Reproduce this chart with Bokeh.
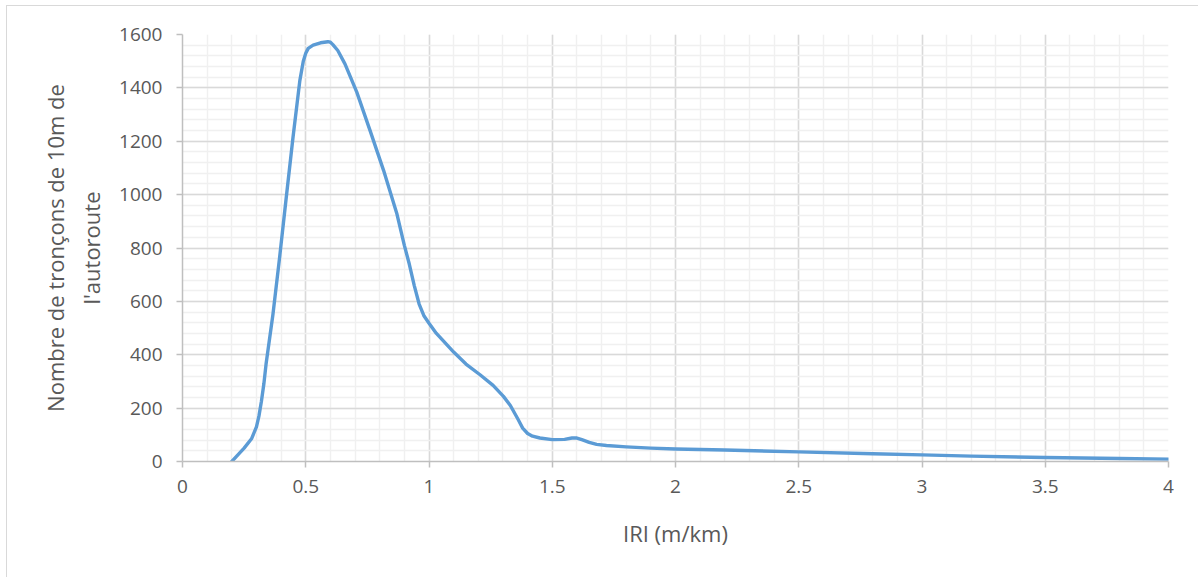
from bokeh.plotting import figure
from bokeh.models import Range1d, SingleIntervalTicker
from bokeh.embed import file_html
from bokeh.resources import INLINE

iri = [0.2, 0.22, 0.25, 0.28, 0.3, 0.31, 0.32, 0.33, 0.339, 0.367, 0.394, 0.421, 0.448, 0.476,
       0.49, 0.5, 0.51, 0.53, 0.56, 0.59, 0.6, 0.61, 0.63, 0.659, 0.707, 0.761, 0.816, 0.87,
       0.9, 0.92, 0.94, 0.96, 0.98, 1.0, 1.03, 1.06, 1.1, 1.15, 1.207, 1.26, 1.302, 1.33,
       1.36, 1.38, 1.4, 1.42, 1.45, 1.5, 1.55, 1.58, 1.6, 1.62, 1.65, 1.68, 1.72, 1.8,
       1.9, 2.0, 2.2, 2.5, 2.8, 3.0, 3.2, 3.5, 3.8, 4.0]
count = [0, 20, 50, 85, 130, 170, 225, 290, 365, 552, 765, 990, 1212, 1427,
         1500, 1530, 1548, 1560, 1569, 1573, 1571, 1562, 1540, 1490, 1384, 1240, 1090, 927,
         810, 740, 660, 590, 545, 518, 480, 450, 410, 365, 325, 285, 244, 210,
         160, 125, 105, 95, 88, 82, 83, 88, 88, 82, 72, 64, 60, 55,
         50, 47, 43, 36, 29, 25, 20, 15, 11, 9]

x_title = "IRI (m/km)"
y_title = "Nombre de tronçons de 10m de\nl'autoroute"

FONT = "Open Sans"
TXT = "#595959"

p = figure(width=1192, height=572, output_backend="svg", toolbar_location=None,
           x_range=Range1d(0, 4), y_range=Range1d(0, 1600),
           min_border_left=175, min_border_right=31, min_border_top=28, min_border_bottom=117,
           styles={"margin-left": "6px", "margin-top": "5px",
                   "border-left": "1px solid #d9d9d9", "border-top": "1px solid #d9d9d9"})
p.outline_line_color = None
p.background_fill_color = "white"
p.border_fill_color = "white"

p.line(iri, count, line_color="#5b9bd5", line_width=3.4, line_join="round", line_cap="round")

p.xaxis.ticker = SingleIntervalTicker(interval=0.5, num_minor_ticks=5)
p.yaxis.ticker = SingleIntervalTicker(interval=200, num_minor_ticks=5)

for ax in (p.xaxis[0], p.yaxis[0]):
    ax.axis_line_color = "#bfbfbf"
    ax.axis_line_width = 1.5
    ax.major_tick_line_color = "#bfbfbf"
    ax.major_tick_line_width = 1.5
    ax.major_tick_out = 6
    ax.major_tick_in = 0
    ax.minor_tick_line_color = None
    ax.major_label_text_font = FONT
    ax.major_label_text_font_size = "19px"
    ax.major_label_text_color = TXT
    ax.axis_label_text_font = FONT
    ax.axis_label_text_font_size = "22px"
    ax.axis_label_text_font_style = "normal"
    ax.axis_label_text_color = TXT

p.xaxis.axis_label = x_title
p.yaxis.axis_label = y_title
p.xaxis.major_label_standoff = 12
p.yaxis.major_label_standoff = 14
p.xaxis.axis_label_standoff = 22
p.yaxis.axis_label_standoff = 10

p.xgrid.grid_line_color = "#d9d9d9"
p.xgrid.grid_line_width = 1.5
p.ygrid.grid_line_color = "#d9d9d9"
p.ygrid.grid_line_width = 1.5
p.xgrid.minor_grid_line_color = "#f0f0f0"
p.xgrid.minor_grid_line_width = 1.5
p.ygrid.minor_grid_line_color = "#f0f0f0"
p.ygrid.minor_grid_line_width = 1.5

open("out.html", "w").write(file_html(p, INLINE))
